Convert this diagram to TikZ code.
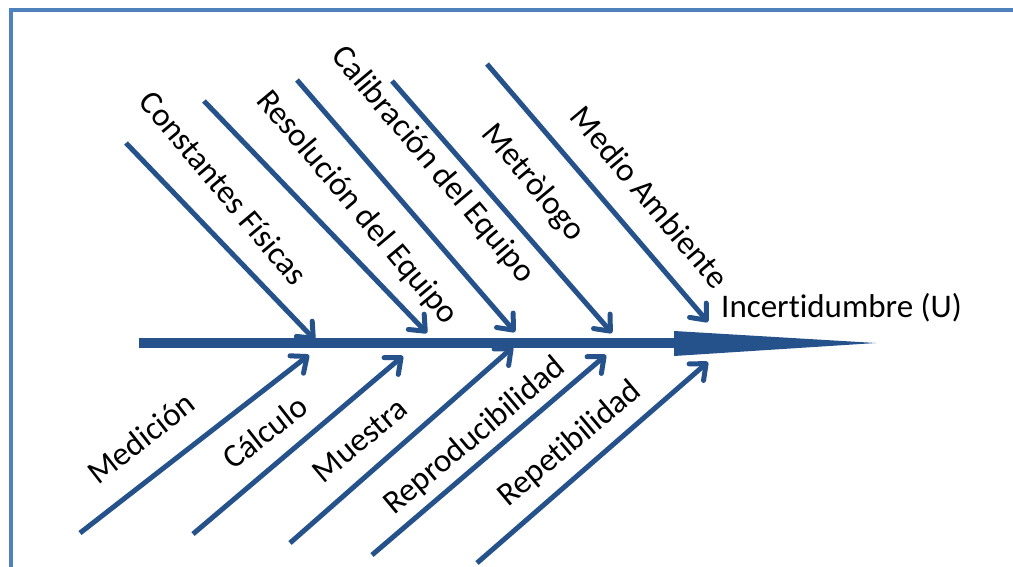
\documentclass[tikz,border=0pt]{standalone}
\usepackage{fontspec}
\setmainfont{Carlito}[Ligatures=NoCommon]
\usetikzlibrary{arrows.meta}
\definecolor{bonecol}{RGB}{38,82,140}
\definecolor{framecol}{RGB}{79,129,189}
\tikzset{
  bone/.style={draw=bonecol, line width=5pt, -{Straight Barb[length=13pt,width=22pt,line cap=round,round]}},
  spine/.style={draw=bonecol, line width=10pt},
  spinehead/.style={fill=bonecol},
  lbl/.style={font=\fontsize{33}{39}\selectfont, text=black, inner sep=0pt},
  frameline/.style={draw=framecol, line width=4pt}
}
\begin{document}
\begin{tikzpicture}[x=1pt,y=-1pt]
\useasboundingbox (0,0) rectangle (1013,567);
% frame
\coordinate (f1) at (11,567);
\coordinate (f2) at (11,10);
\coordinate (f3) at (1013,10);
\draw[frameline] (f1) -- (f2) -- (f3);
% spine
\coordinate (s0) at (139,343);
\coordinate (s1) at (676,343);
\coordinate (h1) at (674,331);
\coordinate (h2) at (876,343);
\coordinate (h3) at (674,356);
\draw[spine] (s0) -- (s1);
\fill[spinehead] (h1) -- (h2) -- (h3) -- cycle;
% upper bones
\coordinate (u1a) at (126,143); \coordinate (u1b) at (315,340);
\coordinate (u2a) at (204,101); \coordinate (u2b) at (427,333);
\coordinate (u3a) at (297,80);  \coordinate (u3b) at (515,332);
\coordinate (u4a) at (392,81);  \coordinate (u4b) at (612,333);
\coordinate (u5a) at (487,64);  \coordinate (u5b) at (708,322);
\draw[bone] (u1a) -- (u1b);
\draw[bone] (u2a) -- (u2b);
\draw[bone] (u3a) -- (u3b);
\draw[bone] (u4a) -- (u4b);
\draw[bone] (u5a) -- (u5b);
% lower bones
\coordinate (l1a) at (80,533);  \coordinate (l1b) at (309,355);
\coordinate (l2a) at (193,534); \coordinate (l2b) at (403,356);
\coordinate (l3a) at (290,543); \coordinate (l3b) at (513,347);
\coordinate (l4a) at (372,555); \coordinate (l4b) at (606,355);
\coordinate (l5a) at (477,563); \coordinate (l5b) at (708,362);
\draw[bone] (l1a) -- (l1b);
\draw[bone] (l2a) -- (l2b);
\draw[bone] (l3a) -- (l3b);
\draw[bone] (l4a) -- (l4b);
\draw[bone] (l5a) -- (l5b);
% labels
\node[lbl, rotate=-50] (t1) at (224,188) {Constantes Físicas};
\node[lbl, rotate=-50] (t2) at (357,208) {Resolución del Equipo};
\node[lbl, rotate=-50] (t3) at (433,165) {Calibración del Equipo};
\node[lbl, rotate=-50] (t4) at (533,183) {Metròlogo};
\node[lbl, rotate=-50] (t5) at (650,197) {Medio Ambiente};
\node[lbl, rotate=38] (b1) at (141,438) {Medición};
\node[lbl, rotate=38] (b2) at (265,432) {Cálculo};
\node[lbl, rotate=40] (b3) at (360,440) {Muestra};
\node[lbl, rotate=40] (b4) at (475,436) {Reproducibilidad};
\node[lbl, rotate=40] (b5) at (570,444) {Repetibilidad};
\node[lbl, anchor=west] (u) at (721,308) {Incertidumbre (U)};
\end{tikzpicture}
\end{document}
